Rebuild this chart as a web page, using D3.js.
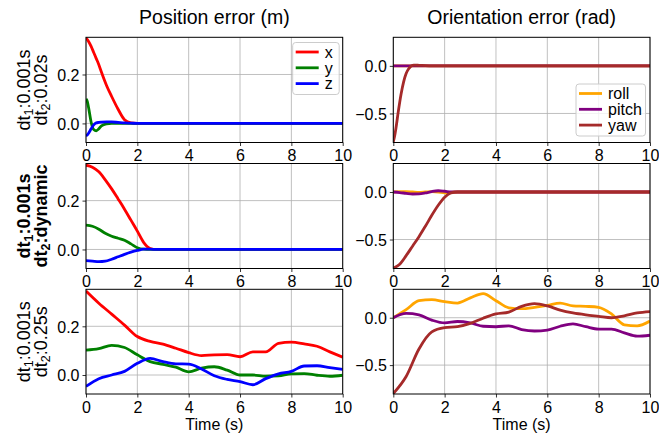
<!DOCTYPE html>
<html lang="en">
<head>
  <meta charset="UTF-8" />
  <title>Position and orientation error</title>
  <style>
    body { margin: 0; background: #fff; font-family: 'Liberation Sans', Arial, sans-serif; }
    svg text { fill: #000; }
    .grid line { stroke: #b0b0b0; stroke-width: 0.8; }
  </style>
</head>
<body>
  <svg id="chart" width="659" height="436"></svg>

  <script src="https://d3js.org/d3.v7.min.js"></script>
  <script>
    // ---- data ----
    const xTicks = [0, 2, 4, 6, 8, 10];
    const posTicks = [0, 0.2];
    const oriTicks = [-0.5, 0];

    // row 1: dt2 = 0.02s
    const tRow1 = [0, 0.05, 0.1, 0.2, 0.3, 0.4, 0.5, 0.6, 0.8, 1.0, 1.25, 1.5, 1.75, 2, 3, 10];
    const posX1 = [0.35, 0.343, 0.335, 0.315, 0.29, 0.265, 0.24, 0.21, 0.155, 0.11, 0.058, 0.015, 0.002, 0, 0, 0];
    const posY1 = [0.1, 0.09, 0.065, 0.005, -0.025, -0.03, -0.022, -0.01, -0.002, 0, 0, 0, 0, 0, 0, 0];
    const posZ1 = [-0.05, -0.047, -0.04, -0.022, -0.006, 0.002, 0.004, 0.005, 0.006, 0.006, 0.004, 0.002, 0.001, 0, 0, 0];
    const roll1 = [0, 0, 0, 0, 0, 0, 0, 0, 0, 0, 0, 0, 0, 0, 0, 0];
    const pitch1 = [0, 0, 0, 0, 0, 0, 0, 0, 0, 0, 0, 0, 0, 0, 0, 0];
    const yaw1 = [-0.8, -0.74, -0.66, -0.47, -0.3, -0.17, -0.08, -0.03, 0.008, 0.006, 0.002, 0, 0, 0, 0, 0];

    // row 2: dt2 = dynamic
    const tRow2 = [0, 0.25, 0.5, 0.75, 1, 1.25, 1.5, 1.75, 2, 2.25, 2.5, 2.75, 3, 10];
    const posX2 = [0.345, 0.337, 0.318, 0.285, 0.248, 0.207, 0.165, 0.12, 0.075, 0.028, 0.004, 0, 0, 0];
    const posY2 = [0.1, 0.095, 0.083, 0.066, 0.054, 0.046, 0.038, 0.023, 0.007, 0.001, 0, 0, 0, 0];
    const posZ2 = [-0.046, -0.048, -0.05, -0.048, -0.04, -0.03, -0.02, -0.011, -0.004, 0.001, 0.001, 0, 0, 0];
    const roll2 = [0, 0.003, 0.004, 0, -0.004, 0, 0.004, 0, -0.008, -0.004, 0, 0, 0, 0];
    const pitch2 = [0, -0.006, -0.014, -0.021, -0.02, -0.01, 0.005, 0.013, 0.008, 0.001, 0, 0, 0, 0];
    const yaw2 = [-0.8, -0.76, -0.67, -0.57, -0.47, -0.36, -0.245, -0.14, -0.055, -0.008, 0, 0, 0, 0];

    // row 3: dt2 = 0.25s
    const tRow3 = [0, 0.5, 1, 1.5, 2, 2.5, 3, 3.5, 4, 4.5, 5, 5.5, 6, 6.5, 7, 7.5, 8, 8.5, 9, 9.5, 10];
    const posX3 = [0.345, 0.295, 0.25, 0.205, 0.158, 0.138, 0.127, 0.11, 0.092, 0.08, 0.083, 0.084, 0.075, 0.095, 0.095, 0.13, 0.135, 0.128, 0.118, 0.095, 0.073];
    const posY3 = [0.102, 0.108, 0.122, 0.113, 0.083, 0.055, 0.044, 0.032, 0.013, 0.028, 0.034, 0.02, 0.0, 0.0, -0.005, -0.003, 0.005, 0.006, -0.001, -0.005, -0.001];
    const posZ3 = [-0.047, -0.015, 0.0, 0.015, 0.048, 0.068, 0.055, 0.046, 0.045, 0.025, -0.003, -0.018, -0.027, -0.04, -0.015, 0.005, 0.015, 0.037, 0.038, 0.03, 0.023];
    const roll3 = [0, 0.085, 0.18, 0.19, 0.17, 0.155, 0.21, 0.255, 0.18, 0.105, 0.095, 0.11, 0.13, 0.155, 0.125, 0.12, 0.11, 0.04, -0.075, -0.085, -0.035];
    const pitch3 = [0, 0.045, 0.03, -0.025, -0.055, -0.04, -0.055, -0.09, -0.095, -0.085, -0.125, -0.14, -0.13, -0.09, -0.065, -0.095, -0.12, -0.12, -0.16, -0.195, -0.185];
    const yaw3 = [-0.8, -0.62, -0.33, -0.15, -0.105, -0.095, -0.06, -0.005, 0.04, 0.06, 0.12, 0.148, 0.125, 0.08, 0.05, 0.03, 0.015, 0.0, 0.02, 0.05, 0.065];

    const posNames = ["x", "y", "z"];
    const posColors = ["#ff0000", "#008000", "#0000ff"];
    const oriNames = ["roll", "pitch", "yaw"];
    const oriColors = ["#ffa500", "#800080", "#a52a2a"];

    const rowLabels = [
      { l1: ["dt", "1", ":0.001s"], l2: ["dt", "2", ":0.02s"], bold: false },
      { l1: ["dt", "1", ":0.001s"], l2: ["dt", "2", ":dynamic"], bold: true },
      { l1: ["dt", "1", ":0.001s"], l2: ["dt", "2", ":0.25s"], bold: false }
    ];

    // ---- layout ----
    const svg = d3.select("#chart");
    const colX = [[86, 342.7], [393.3, 650]];
    const rowY = [[37.3, 142.5], [163.5, 268.5], [289.3, 394]];
    const posDomain = [-0.078, 0.352];
    const oriDomain = [-0.805, 0.3];

    const rows = [
      { t: tRow1, pos: [posX1, posY1, posZ1], ori: [roll1, pitch1, yaw1] },
      { t: tRow2, pos: [posX2, posY2, posZ2], ori: [roll2, pitch2, yaw2] },
      { t: tRow3, pos: [posX3, posY3, posZ3], ori: [roll3, pitch3, yaw3] }
    ];

    const defs = svg.append("defs");
    const fmt = d => d === 0 ? "0.0" : d3.format(".1f")(d).replace("-", "\u2212");

    function drawPanel(ri, ci, t, series, colors, domain, yTicks) {
      const x = d3.scaleLinear().domain([0, 10]).range(colX[ci]);
      const y = d3.scaleLinear().domain(domain).range([rowY[ri][1], rowY[ri][0]]);
      const g = svg.append("g");
      const id = `clip${ri}${ci}`;
      defs.append("clipPath").attr("id", id).append("rect")
        .attr("x", colX[ci][0]).attr("y", rowY[ri][0])
        .attr("width", colX[ci][1] - colX[ci][0]).attr("height", rowY[ri][1] - rowY[ri][0]);

      // grid
      const grid = g.append("g").attr("class", "grid");
      grid.selectAll(".gx").data(xTicks).enter().append("line")
        .attr("x1", d => x(d)).attr("x2", d => x(d))
        .attr("y1", rowY[ri][0]).attr("y2", rowY[ri][1]);
      grid.selectAll(".gy").data(yTicks).enter().append("line")
        .attr("x1", colX[ci][0]).attr("x2", colX[ci][1])
        .attr("y1", d => y(d)).attr("y2", d => y(d));

      // lines
      const line = d3.line().x(d => x(d[0])).y(d => y(d[1])).curve(d3.curveMonotoneX);
      series.forEach((vals, i) => {
        g.append("path")
          .attr("clip-path", `url(#${id})`)
          .attr("d", line(t.map((tt, k) => [tt, vals[k]])))
          .attr("fill", "none")
          .attr("stroke", colors[i])
          .attr("stroke-width", 2.8)
          .attr("stroke-linejoin", "round");
      });

      // axes
      const xa = g.append("g").attr("transform", `translate(0,${rowY[ri][1]})`)
        .call(d3.axisBottom(x).tickValues(xTicks).tickSize(3.5).tickPadding(3).tickFormat(d3.format("d")));
      const ya = g.append("g").attr("transform", `translate(${colX[ci][0]},0)`)
        .call(d3.axisLeft(y).tickValues(yTicks).tickSize(3.5).tickPadding(3).tickFormat(fmt));
      [xa, ya].forEach(a => {
        a.select(".domain").remove();
        a.selectAll("text").attr("font-size", 16).attr("font-family", "'Liberation Sans', Arial, sans-serif");
        a.selectAll("line").attr("stroke", "#000").attr("stroke-width", 0.8);
      });
      ya.selectAll("text").attr("dy", "0.36em");
      xa.selectAll("text").attr("dy", "0.75em");

      g.append("rect")
        .attr("x", colX[ci][0]).attr("y", rowY[ri][0])
        .attr("width", colX[ci][1] - colX[ci][0]).attr("height", rowY[ri][1] - rowY[ri][0])
        .attr("fill", "none").attr("stroke", "#000").attr("stroke-width", 1);
    }

    rows.forEach((r, ri) => {
      drawPanel(ri, 0, r.t, r.pos, posColors, posDomain, posTicks);
      drawPanel(ri, 1, r.t, r.ori, oriColors, oriDomain, oriTicks);
    });

    // column titles
    svg.append("text").attr("x", (colX[0][0] + colX[0][1]) / 2).attr("y", 24)
      .attr("text-anchor", "middle").attr("font-size", 19.5).text("Position error (m)");
    svg.append("text").attr("x", (colX[1][0] + colX[1][1]) / 2).attr("y", 24)
      .attr("text-anchor", "middle").attr("font-size", 19.5).text("Orientation error (rad)");

    // x labels
    colX.forEach(c => {
      svg.append("text").attr("x", (c[0] + c[1]) / 2).attr("y", 430)
        .attr("text-anchor", "middle").attr("font-size", 16).text("Time (s)");
    });

    // row labels
    rowLabels.forEach((lab, ri) => {
      const cy = (rowY[ri][0] + rowY[ri][1]) / 2;
      [[lab.l1, 30], [lab.l2, 47]].forEach(([parts, bx]) => {
        const txt = svg.append("text")
          .attr("transform", `translate(${bx},${cy}) rotate(-90)`)
          .attr("text-anchor", "middle")
          .attr("font-size", 18)
          .attr("font-weight", lab.bold ? "bold" : "normal");
        txt.append("tspan").text(parts[0]);
        txt.append("tspan").attr("font-size", 12.5).attr("dy", 3).text(parts[1]);
        txt.append("tspan").attr("dy", -3).text(parts[2]);
      });
    });

    // legends
    function legend(x0, y0, w, names, colors) {
      const g = svg.append("g");
      g.append("rect").attr("x", x0).attr("y", y0).attr("width", w).attr("height", 52)
        .attr("rx", 3).attr("fill", "#fff").attr("fill-opacity", 0.8)
        .attr("stroke", "#cccccc").attr("stroke-width", 1);
      names.forEach((n, i) => {
        const yy = y0 + 9.5 + i * 15.8;
        g.append("line").attr("x1", x0 + 3).attr("x2", x0 + 26).attr("y1", yy).attr("y2", yy)
          .attr("stroke", colors[i]).attr("stroke-width", 2.8);
        g.append("text").attr("x", x0 + 32).attr("y", yy).attr("dy", "0.36em")
          .attr("font-size", 16).text(n);
      });
    }
    legend(292.7, 42.5, 46.5, posNames, posColors);
    legend(576, 84, 69.5, oriNames, oriColors);
  </script>
</body>
</html>
